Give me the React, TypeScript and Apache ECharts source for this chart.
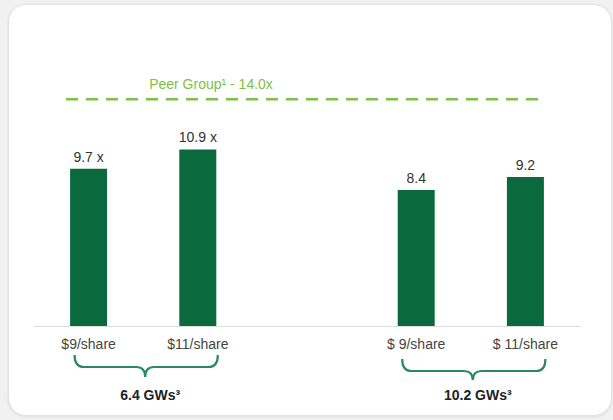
import React, { useEffect, useRef } from "react";
import * as echarts from "echarts";

// Price scenarios and the resulting EV / EBITDA multiples
const categories = ["$9/share", "$11/share", "", "$ 9/share", "$ 11/share"];
const multiples: (number | null)[] = [9.7, 10.9, null, 8.4, 9.2];
const labelSuffix = [" x", " x", "", "", ""];
const peerMultiple = 14.0;
const peerLabel = "Peer Group¹ - 14.0x";
// Capacity groups: index pairs of the bars each bracket spans
const groupNames = ["6.4 GWs³", "10.2 GWs³"];
const groupMembers = [
  [0, 1],
  [3, 4],
];

const FONT = "'Liberation Sans', Arial, sans-serif";
const BAR = "#0a6a3e";
const PEER = "#7cc143";
const BRACE = "#2a8a5b";

// Curly brace drawn below a pair of categories
const Brace = echarts.graphic.extendShape({
  shape: { x1: 0, x2: 0, cx: 0, y0: 0, y1: 0, tip: 0, r: 9 },
  buildPath(ctx: any, s: any) {
    ctx.moveTo(s.x1, s.y0);
    ctx.quadraticCurveTo(s.x1, s.y1, s.x1 + s.r, s.y1);
    ctx.lineTo(s.cx - s.r, s.y1);
    ctx.quadraticCurveTo(s.cx, s.y1, s.cx, s.tip);
    ctx.quadraticCurveTo(s.cx, s.y1, s.cx + s.r, s.y1);
    ctx.lineTo(s.x2 - s.r, s.y1);
    ctx.quadraticCurveTo(s.x2, s.y1, s.x2, s.y0);
  },
});
echarts.graphic.registerShape("brace", Brace);

export default function App() {
  const ref = useRef<HTMLDivElement>(null);

  useEffect(() => {
    if (!ref.current) return;
    const chart = echarts.init(ref.current, undefined, { renderer: "svg" });
    chart.setOption({
      animation: false,
      textStyle: { fontFamily: FONT },
      grid: { left: 34, right: 33, top: 2, bottom: 94 },
      xAxis: {
        type: "category",
        data: categories,
        axisLine: { lineStyle: { color: "#dcdcdc", width: 1 } },
        axisTick: { show: false },
        axisLabel: { color: "#444", fontSize: 14, margin: 11, interval: 0 },
      },
      yAxis: {
        type: "value",
        min: 0,
        max: 20,
        show: false,
        splitLine: { show: false },
      },
      series: [
        {
          type: "bar",
          data: multiples,
          barWidth: 37,
          itemStyle: { color: BAR },
          label: {
            show: true,
            position: "top",
            distance: 5,
            color: "#333",
            fontSize: 14,
            formatter: (p: any) => `${p.value}${labelSuffix[p.dataIndex]}`,
          },
        },
      ],
    });

    const px = (i: number) => chart.convertToPixel({ xAxisIndex: 0 }, i) as number;
    const py = (v: number) => chart.convertToPixel({ yAxisIndex: 0 }, v) as number;

    const peerY = py(peerMultiple);
    const graphics: any[] = [
      {
        type: "line",
        shape: { x1: 66, y1: peerY, x2: 538, y2: peerY },
        style: { stroke: PEER, lineWidth: 2.6, lineDash: [12, 8] },
      },
      {
        type: "text",
        x: 211,
        y: peerY - 15,
        style: {
          text: peerLabel,
          fill: PEER,
          font: `14px ${FONT}`,
          align: "center",
          verticalAlign: "middle",
        },
      },
    ];

    const braceY = [
      { y0: 355, y1: 367, tip: 377 },
      { y0: 359, y1: 371, tip: 380 },
    ];
    groupMembers.forEach((pair, g) => {
      const a = px(pair[0]);
      const b = px(pair[1]);
      const mid = (a + b) / 2 + 2;
      graphics.push({
        type: "brace",
        shape: { x1: a - 14, x2: b + 20, cx: mid, ...braceY[g], r: 9 },
        style: { stroke: BRACE, lineWidth: 2.2, fill: "none" },
      });
      graphics.push({
        type: "text",
        x: mid + 5,
        y: 395,
        style: {
          text: groupNames[g],
          fill: "#222",
          font: `bold 14px ${FONT}`,
          align: "center",
          verticalAlign: "middle",
        },
      });
    });

    chart.setOption({ graphic: graphics });
    return () => chart.dispose();
  }, []);

  return (
    <div
      style={{
        position: "fixed",
        left: 0,
        top: 0,
        width: 613,
        height: 420,
        background: "#f1f1f1",
        overflow: "hidden",
      }}
    >
      <div
        style={{
          position: "absolute",
          left: 8,
          top: 4,
          width: 604,
          height: 412,
          borderRadius: 18,
          background: "#ffffff",
          border: "1px solid #e2e2e2",
          boxSizing: "border-box",
          boxShadow: "0 1px 3px rgba(0,0,0,0.08)",
        }}
      />
      <div
        ref={ref}
        style={{ position: "absolute", left: 0, top: 0, width: 613, height: 420 }}
      />
    </div>
  );
}
